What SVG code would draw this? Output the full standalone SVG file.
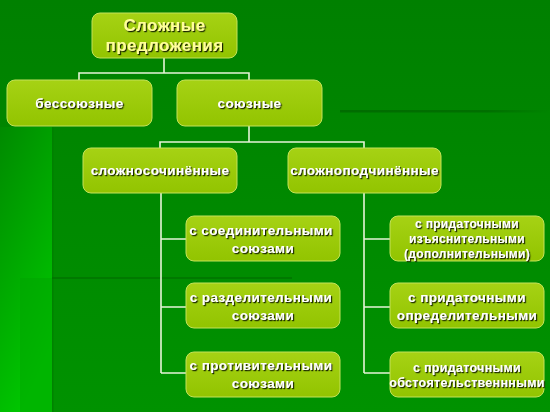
<svg xmlns="http://www.w3.org/2000/svg" width="550" height="412" viewBox="0 0 550 412">
<defs>
<linearGradient id="bg" x1="0" y1="0" x2="0" y2="1">
<stop offset="0" stop-color="#008000"/>
<stop offset="1" stop-color="#009200"/>
</linearGradient>
<linearGradient id="leftBand" x1="0" y1="0" x2="0.4" y2="1">
<stop offset="0" stop-color="#008a00"/>
<stop offset="0.5" stop-color="#00a800"/>
<stop offset="1" stop-color="#00c600"/>
</linearGradient>
<linearGradient id="stripe1" x1="0" y1="0" x2="1" y2="0">
<stop offset="0" stop-color="#006a00" stop-opacity="0.9"/>
<stop offset="0.7" stop-color="#006a00" stop-opacity="0.8"/>
<stop offset="1" stop-color="#006a00" stop-opacity="0"/>
</linearGradient>
<linearGradient id="box" x1="0" y1="0" x2="0" y2="1">
<stop offset="0" stop-color="#a6d214"/>
<stop offset="1" stop-color="#92c400"/>
</linearGradient>
<filter id="sh" x="-10%" y="-30%" width="120%" height="160%">
<feDropShadow dx="1.2" dy="1.2" stdDeviation="0.5" flood-color="#142000" flood-opacity="1"/>
</filter>
</defs>
<style>
.node rect{fill:url(#box);stroke:#c4e25a;stroke-width:1;}
.t{font-family:"Liberation Sans",Arial,sans-serif;font-weight:bold;fill:#ffffff;text-anchor:middle;filter:url(#sh);}
.title{fill:#ffff9a;font-size:17px;letter-spacing:0.4px;}
.m{font-size:13.5px;letter-spacing:0.4px;}
.s{font-size:12.5px;letter-spacing:0.3px;}
.xs{font-size:12px;letter-spacing:0.3px;}
#connectors path{fill:none;stroke:#e6f4d8;stroke-width:1.6;}
</style>
<rect x="0" y="0" width="550" height="412" fill="url(#bg)"/>
<rect x="0" y="127" width="52" height="285" fill="url(#leftBand)"/>
<rect x="52" y="127" width="1.5" height="285" fill="#007e00" opacity="0.8"/>
<rect x="20" y="278" width="32" height="134" fill="#00a400" opacity="0.5"/>
<rect x="340" y="110" width="210" height="2.5" fill="url(#stripe1)"/>
<rect x="52" y="277" width="240" height="2" fill="#007000" opacity="0.7"/>

<g id="connectors">
<path d="M164 58 V73 M79 80 V73 H249 V80"/>
<path d="M249 126 V142 M160 148 V142 H364 V148"/>
<path d="M161 193 V373 M161 239 H186 M161 307 H186 M161 373 H186"/>
<path d="M364 193 V373 M364 239 H390 M364 307 H390 M364 373 H390"/>
</g>

<g id="n-root" class="node">
<rect x="92" y="13" width="145" height="45" rx="8"/>
<text class="t title" x="164.5" y="31">Сложные</text>
<text class="t title" x="164.5" y="51">предложения</text>
</g>
<g id="n-bessoyuznye" class="node">
<rect x="7" y="80" width="145" height="46" rx="8"/>
<text class="t m" x="79.5" y="108">бессоюзные</text>
</g>
<g id="n-soyuznye" class="node">
<rect x="177" y="80" width="145" height="46" rx="8"/>
<text class="t m" x="249.5" y="108">союзные</text>
</g>
<g id="n-slozhnosoch" class="node">
<rect x="83" y="148" width="154" height="45" rx="8"/>
<text class="t m" x="160" y="175">сложносочинённые</text>
</g>
<g id="n-slozhnopodch" class="node">
<rect x="288" y="148" width="153" height="45" rx="8"/>
<text class="t m" x="364.5" y="175">сложноподчинённые</text>
</g>

<g id="n-soed" class="node">
<rect x="186" y="216" width="154" height="45" rx="8"/>
<text class="t m" x="261" y="235">с соединительными</text>
<text class="t m" x="263" y="253">союзами</text>
</g>
<g id="n-razd" class="node">
<rect x="186" y="283" width="154" height="45" rx="8"/>
<text class="t m" x="261" y="302">с разделительными</text>
<text class="t m" x="263" y="320">союзами</text>
</g>
<g id="n-protiv" class="node">
<rect x="186" y="352" width="154" height="45" rx="8"/>
<text class="t m" x="261" y="370">с противительными</text>
<text class="t m" x="263" y="388">союзами</text>
</g>

<g id="n-izyasn" class="node">
<rect x="390" y="216" width="154" height="45" rx="8"/>
<text class="t xs" x="467" y="228">с придаточными</text>
<text class="t xs" x="467" y="243">изъяснительными</text>
<text class="t xs" x="467" y="258">(дополнительными)</text>
</g>
<g id="n-opred" class="node">
<rect x="390" y="283" width="154" height="45" rx="8"/>
<text class="t m" x="467" y="302">с придаточными</text>
<text class="t m" x="467" y="320">определительными</text>
</g>
<g id="n-obst" class="node">
<rect x="390" y="352" width="154" height="45" rx="8"/>
<text class="t s" x="467" y="372">с придаточными</text>
<text class="t s" x="467" y="387">обстоятельственнными</text>
</g>
</svg>
